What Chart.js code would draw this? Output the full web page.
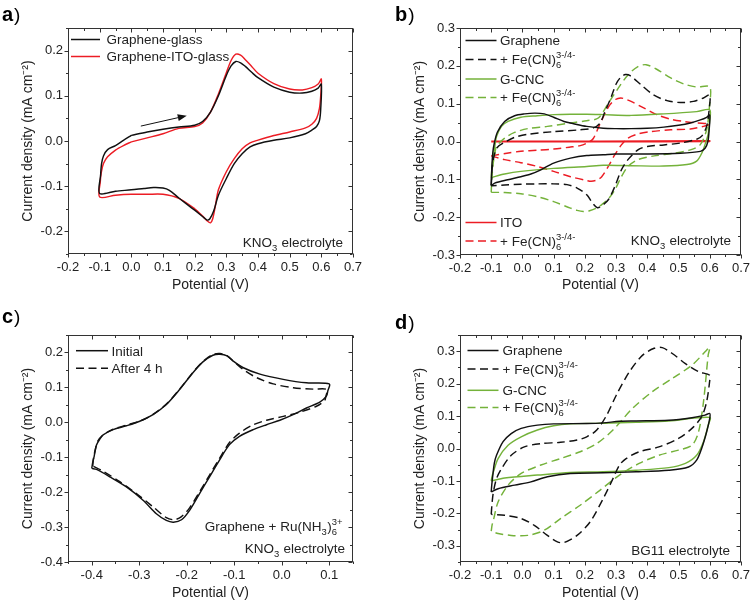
<!DOCTYPE html>
<html><head><meta charset="utf-8">
<script src="https://cdn.jsdelivr.net/npm/chart.js@4.4.1/dist/chart.umd.min.js"></script>
<style>
html,body{margin:0;padding:0;background:#fff;width:756px;height:602px;overflow:hidden}
canvas{position:absolute}
</style></head><body>
<canvas id="ca" width="378" height="300" style="left:0;top:0"></canvas>
<canvas id="cb" width="378" height="300" style="left:378px;top:0"></canvas>
<canvas id="cc" width="378" height="302" style="left:0;top:300px"></canvas>
<canvas id="cd" width="378" height="302" style="left:378px;top:300px"></canvas>
<script>
// ---------------- tick values ----------------
const xTicksA = [-0.2,-0.1,0.0,0.1,0.2,0.3,0.4,0.5,0.6,0.7];
const yTicksA = [-0.2,-0.1,0.0,0.1,0.2];
const xTicksB = [-0.2,-0.1,0.0,0.1,0.2,0.3,0.4,0.5,0.6,0.7];
const yTicksB = [-0.3,-0.2,-0.1,0.0,0.1,0.2,0.3];
const xTicksC = [-0.4,-0.3,-0.2,-0.1,0.0,0.1];
const yTicksC = [-0.4,-0.3,-0.2,-0.1,0.0,0.1,0.2];
const xTicksD = [-0.2,-0.1,0.0,0.1,0.2,0.3,0.4,0.5,0.6,0.7];
const yTicksD = [-0.3,-0.2,-0.1,0.0,0.1,0.2,0.3];

// ---------------- panel a : [potential V, current mA cm-2] ----------------
const aGrapheneGlass = [[0.0,0.0125],[0.05,0.02],[0.1,0.026],[0.15,0.031],[0.2,0.035],[0.225,0.043],[0.25,0.064],[0.275,0.10],[0.3,0.145],[0.315,0.166],[0.33,0.176],[0.345,0.173],[0.36,0.165],[0.38,0.152],[0.4,0.14],[0.45,0.119],[0.5,0.108],[0.54,0.106],[0.57,0.11],[0.59,0.117],[0.6,0.126],
 [0.598,0.07],[0.594,0.045],[0.585,0.032],[0.57,0.024],[0.55,0.016],[0.5,0.007],[0.45,0.0015],[0.4,-0.006],[0.375,-0.013],[0.35,-0.028],[0.325,-0.05],[0.3,-0.083],[0.275,-0.12],[0.26,-0.155],[0.248,-0.172],[0.24,-0.175],[0.23,-0.17],[0.2,-0.153],[0.15,-0.126],[0.12,-0.109],[0.1,-0.104],[0.07,-0.103],[0.04,-0.105],[0.0,-0.108],[-0.05,-0.111],[-0.1,-0.116],
 [-0.097,-0.075],[-0.094,-0.05],[-0.088,-0.033],[-0.075,-0.019],[-0.05,-0.01],[-0.025,0.0015],[0.0,0.0125]];
const aGrapheneITO = [[0.0,-0.002],[0.05,0.007],[0.1,0.016],[0.15,0.028],[0.2,0.032],[0.225,0.04],[0.25,0.064],[0.275,0.104],[0.3,0.151],[0.315,0.178],[0.33,0.192],[0.345,0.19],[0.36,0.18],[0.38,0.165],[0.4,0.15],[0.45,0.127],[0.5,0.115],[0.54,0.113],[0.57,0.118],[0.59,0.126],[0.6,0.137],
 [0.598,0.1],[0.594,0.072],[0.585,0.05],[0.57,0.037],[0.55,0.029],[0.5,0.02],[0.45,0.012],[0.4,0.002],[0.375,-0.004],[0.35,-0.017],[0.325,-0.039],[0.3,-0.068],[0.275,-0.108],[0.265,-0.145],[0.257,-0.172],[0.25,-0.181],[0.24,-0.177],[0.225,-0.166],[0.2,-0.15],[0.15,-0.127],[0.1,-0.118],[0.05,-0.118],[0.0,-0.118],[-0.05,-0.12],[-0.1,-0.124],
 [-0.098,-0.09],[-0.095,-0.07],[-0.088,-0.05],[-0.075,-0.035],[-0.05,-0.02],[-0.025,-0.01],[0.0,-0.002]];
const aArrow = [[0.03,0.033],[0.175,0.056]];

// ---------------- panel b ----------------
const bGraphene = [[-0.1,-0.117],[-0.098,-0.07],[-0.095,-0.03],[-0.09,-0.004],[-0.08,0.025],[-0.057,0.053],[-0.025,0.068],[0.007,0.073],[0.04,0.075],[0.07,0.073],[0.1,0.064],[0.133,0.053],[0.164,0.047],[0.206,0.04],[0.259,0.035],[0.3,0.034],[0.348,0.034],[0.4,0.035],[0.453,0.038],[0.5,0.043],[0.538,0.049],[0.57,0.057],[0.59,0.064],[0.6,0.07],
 [0.598,0.03],[0.594,0.0],[0.585,-0.018],[0.57,-0.026],[0.506,-0.031],[0.4,-0.033],[0.296,-0.033],[0.259,-0.035],[0.206,-0.037],[0.154,-0.044],[0.1,-0.057],[0.059,-0.075],[0.027,-0.086],[-0.005,-0.093],[-0.047,-0.101],[-0.089,-0.11],[-0.1,-0.117]];
const bGrapheneFe = [[-0.1,-0.115],[-0.097,-0.07],[-0.09,-0.035],[-0.08,-0.015],[-0.057,-0.002],[-0.025,0.011],[0.017,0.019],[0.1,0.026],[0.185,0.031],[0.227,0.036],[0.248,0.048],[0.264,0.078],[0.285,0.119],[0.3,0.152],[0.315,0.17],[0.33,0.177],[0.345,0.174],[0.38,0.15],[0.42,0.123],[0.463,0.108],[0.506,0.103],[0.548,0.106],[0.58,0.115],[0.6,0.123],
 [0.598,0.084],[0.59,0.04],[0.575,0.015],[0.558,0.006],[0.506,-0.004],[0.453,-0.009],[0.4,-0.013],[0.37,-0.022],[0.338,-0.048],[0.317,-0.075],[0.296,-0.119],[0.275,-0.154],[0.254,-0.17],[0.24,-0.175],[0.225,-0.163],[0.206,-0.141],[0.175,-0.123],[0.143,-0.114],[0.1,-0.112],[0.048,-0.112],[-0.005,-0.113],[-0.057,-0.115],[-0.1,-0.117]];
const bGCNC = [[-0.1,-0.095],[-0.097,-0.06],[-0.094,-0.045],[-0.088,-0.01],[-0.083,0.013],[-0.067,0.04],[-0.046,0.053],[-0.005,0.064],[0.048,0.068],[0.1,0.071],[0.154,0.072],[0.206,0.072],[0.259,0.071],[0.348,0.069],[0.453,0.073],[0.558,0.079],[0.6,0.084],
 [0.599,0.05],[0.595,0.02],[0.588,0.0],[0.575,-0.03],[0.558,-0.052],[0.527,-0.061],[0.453,-0.065],[0.348,-0.064],[0.259,-0.063],[0.206,-0.066],[0.1,-0.071],[-0.005,-0.079],[-0.057,-0.086],[-0.1,-0.095]];
const bGCNCFe = [[-0.1,-0.134],[-0.098,-0.1],[-0.094,-0.06],[-0.088,-0.03],[-0.083,-0.013],[-0.057,0.009],[-0.025,0.024],[0.017,0.034],[0.08,0.04],[0.154,0.049],[0.206,0.055],[0.243,0.062],[0.275,0.101],[0.307,0.141],[0.338,0.176],[0.37,0.198],[0.396,0.203],[0.43,0.191],[0.475,0.168],[0.517,0.152],[0.558,0.144],[0.6,0.144],
 [0.599,0.093],[0.59,0.031],[0.569,-0.009],[0.538,-0.022],[0.485,-0.031],[0.422,-0.038],[0.37,-0.048],[0.338,-0.066],[0.317,-0.093],[0.296,-0.128],[0.275,-0.152],[0.255,-0.166],[0.235,-0.177],[0.215,-0.183],[0.195,-0.185],[0.175,-0.182],[0.154,-0.176],[0.1,-0.159],[0.048,-0.146],[-0.005,-0.138],[-0.057,-0.135],[-0.1,-0.134]];
const bITO = [[-0.1,0.001],[0.25,0.001],[0.6,0.002],[0.6,0.0],[0.25,-0.001],[-0.1,-0.001]];
const bITOFe = [[-0.1,-0.038],[-0.05,-0.031],[-0.005,-0.026],[0.05,-0.023],[0.1,-0.02],[0.15,-0.015],[0.185,-0.011],[0.21,-0.003],[0.227,0.008],[0.245,0.04],[0.262,0.07],[0.28,0.097],[0.298,0.111],[0.315,0.115],[0.33,0.112],[0.348,0.106],[0.39,0.088],[0.43,0.071],[0.475,0.059],[0.517,0.053],[0.558,0.049],[0.6,0.046],
 [0.58,0.04],[0.538,0.033],[0.475,0.031],[0.41,0.026],[0.37,0.02],[0.338,0.009],[0.317,-0.009],[0.296,-0.035],[0.275,-0.066],[0.254,-0.093],[0.238,-0.102],[0.22,-0.105],[0.206,-0.103],[0.154,-0.093],[0.1,-0.079],[0.048,-0.066],[-0.005,-0.056],[-0.057,-0.048],[-0.1,-0.038]];

// ---------------- panel c ----------------
const cInitial = [[-0.4,-0.132],[-0.398,-0.115],[-0.395,-0.098],[-0.39,-0.065],[-0.383,-0.048],[-0.376,-0.036],[-0.355,-0.021],[-0.327,-0.01],[-0.299,0.003],[-0.271,0.022],[-0.243,0.051],[-0.215,0.094],[-0.187,0.142],[-0.166,0.173],[-0.145,0.192],[-0.13,0.195],[-0.115,0.19],[-0.103,0.176],[-0.082,0.157],[-0.046,0.138],[0.003,0.123],[0.052,0.113],[0.1,0.11],
 [0.097,0.09],[0.094,0.075],[0.08,0.058],[0.052,0.041],[0.024,0.022],[-0.004,0.006],[-0.032,-0.007],[-0.06,-0.021],[-0.089,-0.04],[-0.11,-0.064],[-0.131,-0.108],[-0.152,-0.156],[-0.173,-0.204],[-0.194,-0.252],[-0.211,-0.279],[-0.228,-0.286],[-0.243,-0.281],[-0.264,-0.262],[-0.292,-0.223],[-0.327,-0.185],[-0.362,-0.156],[-0.39,-0.135],[-0.4,-0.132]];
const cAfter4h = [[-0.398,-0.125],[-0.396,-0.1],[-0.392,-0.075],[-0.388,-0.055],[-0.376,-0.036],[-0.355,-0.02],[-0.327,-0.008],[-0.299,0.003],[-0.271,0.023],[-0.243,0.052],[-0.215,0.095],[-0.187,0.143],[-0.166,0.174],[-0.145,0.194],[-0.13,0.197],[-0.115,0.19],[-0.1,0.173],[-0.082,0.152],[-0.053,0.128],[-0.018,0.11],[0.024,0.099],[0.066,0.095],[0.095,0.094],
 [0.093,0.075],[0.09,0.062],[0.073,0.046],[0.038,0.029],[0.003,0.017],[-0.032,0.006],[-0.06,-0.007],[-0.089,-0.031],[-0.11,-0.058],[-0.131,-0.103],[-0.152,-0.151],[-0.173,-0.199],[-0.194,-0.245],[-0.211,-0.27],[-0.226,-0.279],[-0.243,-0.273],[-0.271,-0.242],[-0.306,-0.204],[-0.341,-0.17],[-0.376,-0.14],[-0.398,-0.125]];

// ---------------- panel d ----------------
const dGraphene = [[-0.1,-0.134],[-0.098,-0.11],[-0.094,-0.075],[-0.09,-0.045],[-0.083,-0.021],[-0.062,0.021],[-0.036,0.046],[-0.004,0.062],[0.048,0.072],[0.1,0.076],[0.206,0.077],[0.259,0.079],[0.311,0.084],[0.364,0.085],[0.469,0.087],[0.543,0.095],[0.585,0.103],[0.6,0.108],
 [0.6,0.093],[0.59,0.051],[0.574,0.0],[0.558,-0.036],[0.532,-0.057],[0.469,-0.067],[0.364,-0.072],[0.259,-0.075],[0.153,-0.077],[0.08,-0.087],[0.027,-0.103],[-0.025,-0.113],[-0.078,-0.124],[-0.1,-0.134]];
const dGrapheneFe = [[-0.1,-0.203],[-0.097,-0.165],[-0.093,-0.134],[-0.083,-0.093],[-0.067,-0.062],[-0.036,-0.021],[0.006,0.005],[0.059,0.015],[0.122,0.019],[0.175,0.026],[0.206,0.036],[0.238,0.057],[0.27,0.103],[0.301,0.165],[0.343,0.237],[0.385,0.288],[0.422,0.309],[0.448,0.311],[0.48,0.293],[0.522,0.262],[0.564,0.237],[0.6,0.226],
 [0.6,0.21],[0.59,0.144],[0.574,0.098],[0.543,0.062],[0.5,0.031],[0.437,0.005],[0.374,-0.01],[0.332,-0.031],[0.311,-0.051],[0.29,-0.093],[0.259,-0.154],[0.217,-0.226],[0.175,-0.268],[0.133,-0.29],[0.112,-0.288],[0.08,-0.268],[0.038,-0.237],[-0.004,-0.216],[-0.057,-0.206],[-0.1,-0.203]];
const dGCNC = [[-0.1,-0.1],[-0.097,-0.085],[-0.093,-0.072],[-0.078,-0.031],[-0.046,0.01],[-0.004,0.036],[0.048,0.057],[0.1,0.07],[0.153,0.076],[0.259,0.078],[0.364,0.081],[0.469,0.085],[0.6,0.096],
 [0.595,0.072],[0.58,0.021],[0.558,-0.021],[0.522,-0.046],[0.469,-0.059],[0.364,-0.067],[0.259,-0.072],[0.153,-0.074],[0.048,-0.082],[-0.057,-0.091],[-0.1,-0.1]];
const dGCNCFe = [[-0.1,-0.255],[-0.097,-0.235],[-0.093,-0.221],[-0.078,-0.165],[-0.046,-0.113],[-0.004,-0.077],[0.059,-0.051],[0.122,-0.031],[0.185,-0.01],[0.238,0.015],[0.29,0.057],[0.353,0.124],[0.416,0.175],[0.48,0.216],[0.543,0.257],[0.585,0.298],[0.6,0.312],
 [0.595,0.288],[0.58,0.144],[0.564,0.051],[0.543,0.01],[0.5,-0.005],[0.437,-0.021],[0.374,-0.046],[0.311,-0.082],[0.248,-0.129],[0.185,-0.175],[0.122,-0.216],[0.07,-0.252],[0.017,-0.268],[-0.036,-0.268],[-0.078,-0.262],[-0.1,-0.255]];

// ---------------- styling ----------------
const FONT = "'Liberation Sans', Arial, Helvetica, sans-serif";
const TXT = '#222';
const AXC = '#333';
const BLACK = '#111111';
const RED = '#ec1c24';
const GREEN = '#74b23a';
const DASH = [8, 4.5];
const YTITLE = 'Current density (mA cm\u207B\u00B2)';
const FE = ['+ Fe(CN)', {sub:'6', sup:'3-/4-'}];

function fmt(v){ return (Math.abs(v) < 1e-9 ? 0 : v).toFixed(1); }

function richWidth(ctx, segs, size){
  let w = 0;
  for (const s of segs){
    if (typeof s === 'string'){ ctx.font = size + 'px ' + FONT; w += ctx.measureText(s).width; }
    else { ctx.font = (size*0.7) + 'px ' + FONT;
      w += Math.max(s.sub ? ctx.measureText(s.sub).width : 0, s.sup ? ctx.measureText(s.sup).width : 0) + 0.5; }
  }
  return w;
}
function drawRich(ctx, segs, x, y, size, align){
  if (typeof segs === 'string') segs = [segs];
  if (align === 'right') x -= richWidth(ctx, segs, size);
  ctx.fillStyle = TXT; ctx.textAlign = 'left'; ctx.textBaseline = 'alphabetic';
  const base = y + size*0.36;
  for (const s of segs){
    if (typeof s === 'string'){
      ctx.font = size + 'px ' + FONT; ctx.fillText(s, x, base); x += ctx.measureText(s).width;
    } else {
      ctx.font = (size*0.7) + 'px ' + FONT;
      let w = 0;
      if (s.sub){ ctx.fillText(s.sub, x, base + size*0.28); w = Math.max(w, ctx.measureText(s.sub).width); }
      if (s.sup){ ctx.fillText(s.sup, x, base - size*0.45); w = Math.max(w, ctx.measureText(s.sup).width); }
      x += w + 0.5;
    }
  }
}

function minorVals(majors, min, max){
  const step = (majors[1]-majors[0])/2, out = [];
  for (let k = Math.ceil(min/step - 1e-6); k <= Math.floor(max/step + 1e-6); k++){
    const v = k*step;
    if (!majors.some(m => Math.abs(m - v) < 1e-6)) out.push(v);
  }
  return out;
}

function buildPanel(p){
  const framePlugin = {
    id: 'frame' + p.id,
    afterDatasetsDraw(chart){
      const {ctx, chartArea: a, scales: {x, y}} = chart;
      ctx.save();
      ctx.strokeStyle = AXC; ctx.lineWidth = 1; ctx.setLineDash([]);
      const L = Math.round(a.left)+0.5, R = Math.round(a.right)-0.5, T = Math.round(a.top)+0.5, B = Math.round(a.bottom)-0.5;
      ctx.strokeRect(L, T, R-L, B-T);
      ctx.beginPath();
      const xm = minorVals(p.xTicks, p.xMin, p.xMax), ym = minorVals(p.yTicks, p.yMin, p.yMax);
      const tx = (v, len) => { const px = Math.round(x.getPixelForValue(v))+0.5;
        ctx.moveTo(px, B); ctx.lineTo(px, B+len); ctx.moveTo(px, T); ctx.lineTo(px, T+len); };
      const ty = (v, len) => { const py = Math.round(y.getPixelForValue(v))+0.5;
        ctx.moveTo(L, py); ctx.lineTo(L-len, py); ctx.moveTo(R, py); ctx.lineTo(R-len, py); };
      p.xTicks.forEach(v => tx(v, 4)); xm.forEach(v => tx(v, 2.5));
      p.yTicks.forEach(v => ty(v, 4)); ym.forEach(v => ty(v, 2.5));
      ctx.stroke();
      ctx.restore();
    },
    afterDraw(chart){
      const ctx = chart.ctx, a = chart.chartArea;
      ctx.save();
      // panel letter
      ctx.fillStyle = '#000'; ctx.textBaseline = 'alphabetic'; ctx.textAlign = 'left';
      ctx.font = 'bold 20px ' + FONT; ctx.fillText(p.letter, p.letterX, p.letterY);
      const lw = ctx.measureText(p.letter).width;
      ctx.font = '19px ' + FONT; ctx.fillText(')', p.letterX + lw + 1, p.letterY);
      // legend
      for (const e of p.legend){
        const ds = chart.data.datasets[e.ds];
        ctx.strokeStyle = ds.borderColor; ctx.lineWidth = 1.5;
        ctx.setLineDash(ds.borderDash || []);
        ctx.beginPath(); ctx.moveTo(p.legX0, e.y); ctx.lineTo(p.legX1, e.y); ctx.stroke();
        ctx.setLineDash([]);
        drawRich(ctx, e.text, p.legTx, e.y, 13.5, 'left');
      }
      // annotations
      for (const n of p.notes) drawRich(ctx, n.text, a.right - n.dr, n.y, 13.5, 'right');
      // arrow
      if (p.arrow){
        const xs = chart.scales.x, ys = chart.scales.y;
        const x0 = xs.getPixelForValue(p.arrow[0][0]), y0 = ys.getPixelForValue(p.arrow[0][1]);
        const x1 = xs.getPixelForValue(p.arrow[1][0]), y1 = ys.getPixelForValue(p.arrow[1][1]);
        const ang = Math.atan2(y1-y0, x1-x0), hl = 9, hw = 3.5;
        const bx = x1 - hl*Math.cos(ang), by = y1 - hl*Math.sin(ang);
        ctx.strokeStyle = '#111'; ctx.fillStyle = '#111'; ctx.lineWidth = 1;
        ctx.beginPath(); ctx.moveTo(x0, y0); ctx.lineTo(bx, by); ctx.stroke();
        ctx.beginPath(); ctx.moveTo(x1, y1);
        ctx.lineTo(bx + hw*Math.sin(ang), by - hw*Math.cos(ang));
        ctx.lineTo(bx - hw*Math.sin(ang), by + hw*Math.cos(ang));
        ctx.closePath(); ctx.fill();
      }
      ctx.restore();
    }
  };
  return new Chart(document.getElementById(p.id), {
    type: 'scatter',
    data: { datasets: p.series.map(s => ({
      label: s.name,
      data: s.pts.map(q => ({x: q[0], y: q[1]})),
      showLine: true, fill: false,
      borderColor: s.color, backgroundColor: s.color,
      borderWidth: 1.45, borderDash: s.dash ? DASH : [],
      pointRadius: 0, pointHoverRadius: 0, tension: 0.3
    }))},
    options: {
      responsive: false, animation: false, devicePixelRatio: 1, events: [],
      layout: { padding: { top: p.padTop, right: p.padRight, left: 0, bottom: 0 } },
      plugins: { legend: { display: false }, tooltip: { enabled: false } },
      scales: {
        x: { type: 'linear', position: 'bottom', min: p.xMin, max: p.xMax,
          afterBuildTicks: s => { s.ticks = p.xTicks.map(v => ({value: v})); },
          afterFit: s => { s.height = p.xH; },
          grid: { display: false, drawTicks: false, tickLength: 0 },
          border: { display: false },
          ticks: { font: { size: 13, family: FONT }, color: TXT, padding: 6, maxRotation: 0, minRotation: 0, autoSkip: false, callback: fmt },
          title: { display: true, text: 'Potential (V)', color: TXT, font: { size: 14, family: FONT }, padding: { top: 0, bottom: p.xTitlePad } } },
        y: { type: 'linear', position: 'left', min: p.yMin, max: p.yMax,
          afterBuildTicks: s => { s.ticks = p.yTicks.map(v => ({value: v})); },
          afterFit: s => { s.width = p.yW; },
          grid: { display: false, drawTicks: false, tickLength: 0 },
          border: { display: false },
          ticks: { font: { size: 13, family: FONT }, color: TXT, padding: 5, autoSkip: false, callback: fmt },
          title: { display: true, text: YTITLE, color: TXT, font: { size: 14, family: FONT }, padding: { top: p.yTitlePad, bottom: 0 } } }
      }
    },
    plugins: [framePlugin]
  });
}

buildPanel({ id: 'ca', letter: 'a', letterX: 2, letterY: 21,
  xMin: -0.2, xMax: 0.7, yMin: -0.25, yMax: 0.25, xTicks: xTicksA, yTicks: yTicksA,
  padTop: 28, padRight: 25, xH: 46, yW: 68, xTitlePad: 6.6, yTitlePad: 19.6,
  series: [
    { name: 'Graphene-glass', pts: aGrapheneGlass, color: BLACK },
    { name: 'Graphene-ITO-glass', pts: aGrapheneITO, color: RED }
  ],
  legX0: 71, legX1: 100, legTx: 106.5,
  legend: [ { ds: 0, y: 39.5, text: 'Graphene-glass' }, { ds: 1, y: 56.5, text: 'Graphene-ITO-glass' } ],
  notes: [ { text: ['KNO', {sub: '3'}, ' electrolyte'], dr: 10, y: 242 } ],
  arrow: aArrow });

buildPanel({ id: 'cb', letter: 'b', letterX: 17, letterY: 21,
  xMin: -0.2, xMax: 0.7, yMin: -0.3, yMax: 0.3, xTicks: xTicksB, yTicks: yTicksB,
  padTop: 28, padRight: 11, xH: 45, yW: 82, xTitlePad: 6.6, yTitlePad: 33.3,
  series: [
    { name: 'Graphene', pts: bGraphene, color: BLACK },
    { name: '+ Fe(CN)6 3-/4-', pts: bGrapheneFe, color: BLACK, dash: true },
    { name: 'G-CNC', pts: bGCNC, color: GREEN },
    { name: '+ Fe(CN)6 3-/4-', pts: bGCNCFe, color: GREEN, dash: true },
    { name: 'ITO', pts: bITO, color: RED },
    { name: '+ Fe(CN)6 3-/4-', pts: bITOFe, color: RED, dash: true }
  ],
  legX0: 87.5, legX1: 118.5, legTx: 122,
  legend: [ { ds: 0, y: 40.5, text: 'Graphene' }, { ds: 1, y: 59.5, text: FE },
            { ds: 2, y: 79, text: 'G-CNC' }, { ds: 3, y: 97.5, text: FE },
            { ds: 4, y: 222.5, text: 'ITO' }, { ds: 5, y: 241, text: FE } ],
  notes: [ { text: ['KNO', {sub: '3'}, ' electrolyte'], dr: 10, y: 240 } ] });

buildPanel({ id: 'cc', letter: 'c', letterX: 2, letterY: 23,
  xMin: -0.45, xMax: 0.15, yMin: -0.4, yMax: 0.25, xTicks: xTicksC, yTicks: yTicksC,
  padTop: 35, padRight: 25, xH: 40, yW: 68, xTitlePad: 0.6, yTitlePad: 19.6,
  series: [
    { name: 'Initial', pts: cInitial, color: BLACK },
    { name: 'After 4 h', pts: cAfter4h, color: BLACK, dash: true }
  ],
  legX0: 76, legX1: 108, legTx: 111.5,
  legend: [ { ds: 0, y: 50.7, text: 'Initial' }, { ds: 1, y: 68.3, text: 'After 4 h' } ],
  notes: [ { text: ['Graphene + Ru(NH', {sub: '3'}, ')', {sub: '6', sup: '3+'}], dr: 10, y: 226.5 },
           { text: ['KNO', {sub: '3'}, ' electrolyte'], dr: 8, y: 248.5 } ] });

buildPanel({ id: 'cd', letter: 'd', letterX: 17, letterY: 29,
  xMin: -0.2, xMax: 0.7, yMin: -0.35, yMax: 0.35, xTicks: xTicksD, yTicks: yTicksD,
  padTop: 35, padRight: 11, xH: 40, yW: 82, xTitlePad: 0.6, yTitlePad: 33.3,
  series: [
    { name: 'Graphene', pts: dGraphene, color: BLACK },
    { name: '+ Fe(CN)6 3-/4-', pts: dGrapheneFe, color: BLACK, dash: true },
    { name: 'G-CNC', pts: dGCNC, color: GREEN },
    { name: '+ Fe(CN)6 3-/4-', pts: dGCNCFe, color: GREEN, dash: true }
  ],
  legX0: 89.5, legX1: 120.5, legTx: 124.5,
  legend: [ { ds: 0, y: 50.5, text: 'Graphene' }, { ds: 1, y: 69, text: FE },
            { ds: 2, y: 90.3, text: 'G-CNC' }, { ds: 3, y: 107.5, text: FE } ],
  notes: [ { text: 'BG11 electrolyte', dr: 11, y: 250 } ] });
</script>
</body></html>
